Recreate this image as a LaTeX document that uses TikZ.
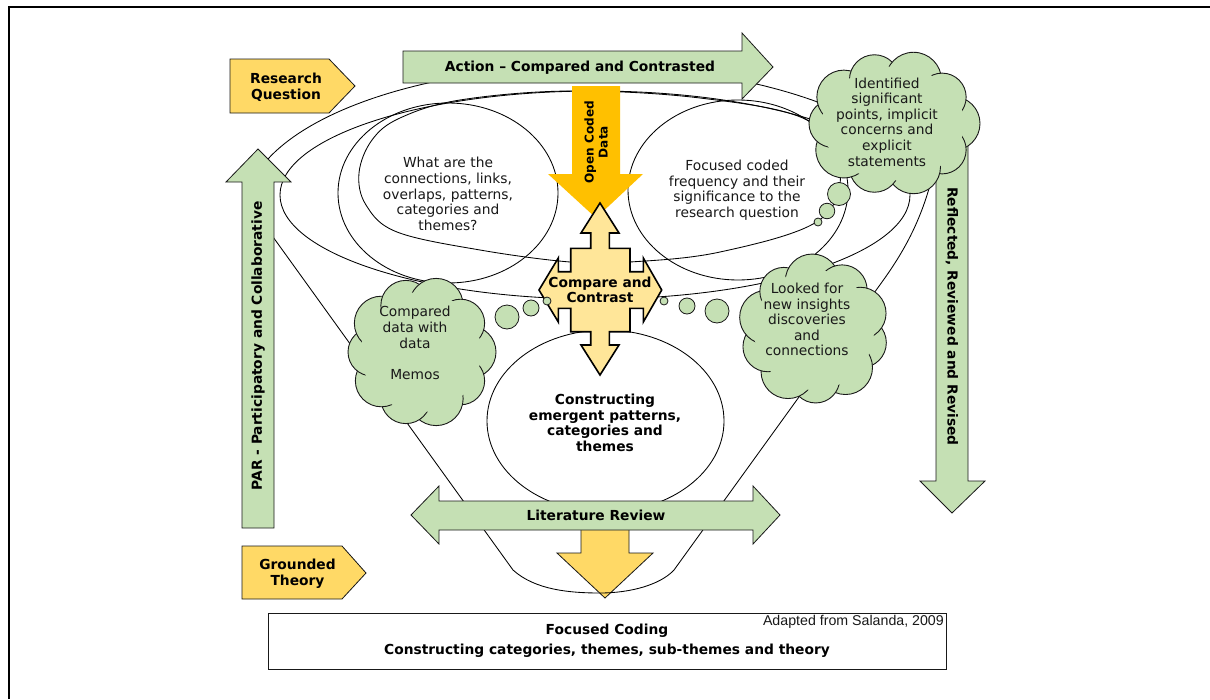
\documentclass[tikz,border=0pt]{standalone}
\usepackage{fontspec}
\setmainfont{DejaVu Sans}
\newfontfamily\notefont{Liberation Sans}
\usetikzlibrary{shapes.geometric}
\definecolor{leaf}{RGB}{197,224,180}
\definecolor{gold}{RGB}{255,217,102}
\definecolor{amber}{RGB}{255,192,0}
\definecolor{cream}{RGB}{255,230,153}
\definecolor{ink}{RGB}{25,25,25}
\tikzset{
  outline/.style={draw=ink, line width=0.8pt, line join=miter},
  greenshape/.style={outline, fill=leaf},
  goldshape/.style={outline, fill=gold},
  curve/.style={draw=black, line width=0.85pt},
  txt/.style={font=\fontsize{13.8}{15.6}\selectfont, align=center, inner sep=0pt, text=ink},
  btxt/.style={txt, font=\fontsize{13.8}{15.6}\selectfont\bfseries, text=black},
  puff/.style={draw=ink, line width=0.9pt, fill=leaf},
  bubble/.style={circle, draw=ink, line width=0.8pt, fill=leaf, inner sep=0pt},
  oval/.style={ellipse, draw=black, line width=0.85pt, inner sep=0pt},
}
% a thought cloud built from overlapping puffs: centre x, centre y, x spread, y spread, angle/radius list
\newcommand\puffcloud[5]{%
  \foreach \pa/\pr in {#5} {\draw[puff] ({#1+#3*cos(\pa)},{#2+#4*sin(\pa)}) circle[radius=\pr];}
  \fill[leaf] (#1,#2) ellipse[x radius=#3+11, y radius=#4+11];
}
\begin{document}
\begin{tikzpicture}[x=1pt,y=-1pt]
\useasboundingbox (0,0) rectangle (1210,699);
\fill[white] (0,0) rectangle (1210,699);
% page frame
\draw[line width=1.8pt] (9,699) -- (9,7) -- (1210,7);

% ---- background sweeps ----
\draw[curve] plot[domain=199:332, samples=80] ({590+345*cos(\x)},{211+145*sin(\x)});
\draw[curve] (595,195) ellipse [x radius=315, y radius=104];
\draw[curve] plot[smooth cycle, tension=0.6] coordinates {(359,173) (372,140) (400,118) (460,100) (570,91) (700,98) (807,120) (840,170) (818,221) (720,252) (630,262) (570,262) (480,250) (397,232) (366,205)};

% ---- question ovals ----
\node[oval, minimum width=220pt, minimum height=180pt] (qleft) at (448,193) {};
\node[oval, minimum width=220pt, minimum height=180pt] (qright) at (738,190) {};
\node[oval, minimum width=237pt, minimum height=182pt] (build) at (605.5,421) {};

% ---- grounded theory arrow into focused coding ----
\draw[goldshape] (581,520) -- (629,520) -- (629,553) -- (653,553) -- (605,598) -- (557,553) -- (581,553) -- cycle;

% ---- funnel ----
\draw[curve] (250,205) -- (513,570) .. controls (535,590) and (570,593) .. (600,593)
  .. controls (630,593) and (660,585) .. (674,570) -- (882,282) .. controls (905,250) and (925,215) .. (936,160);

% ---- literature review double arrow ----
\draw[greenshape] (411,515) -- (439,486) -- (439,501) -- (753,501) -- (753,486) -- (780,515)
  -- (753,544) -- (753,530) -- (439,530) -- (439,544) -- cycle;

% ---- action arrow ----
\draw[greenshape] (403,51) -- (742,51) -- (742,33) -- (773,67) -- (742,99) -- (742,83) -- (403,83) -- cycle;

% ---- open coded data arrow ----
\fill[amber] (572,86) -- (620,86) -- (620,174) -- (643,174) -- (596,218) -- (548,174) -- (572,174) -- cycle;

% ---- compare and contrast quad arrow ----
\draw[fill=cream, draw=black, line width=1.6pt, line join=miter]
  (600,203) -- (619,233) -- (609.3,233) -- (609.3,248.3) -- (630,248.3) -- (630,271.7) -- (643.3,271.7)
  -- (643.3,258) -- (661.7,290) -- (643.3,322) -- (643.3,308.3) -- (630,308.3) -- (630,331.7)
  -- (609.3,331.7) -- (609.3,345) -- (619,345) -- (600,375) -- (581,345) -- (590.7,345) -- (590.7,331.7)
  -- (570.7,331.7) -- (570.7,308.3) -- (558.3,308.3) -- (558.3,322) -- (539,290) -- (558.3,258)
  -- (558.3,271.7) -- (570.7,271.7) -- (570.7,248.3) -- (590.7,248.3) -- (590.7,233) -- (581,233) -- cycle;

% ---- side arrows ----
\draw[greenshape] (242,528) -- (242,182) -- (226,182) -- (258,149) -- (291,182) -- (274,182) -- (274,528) -- cycle;
\draw[greenshape] (936,140) -- (968,140) -- (968,481) -- (985,481) -- (952,513) -- (920,481) -- (936,481) -- cycle;

% ---- thought clouds ----
\puffcloud{893}{123.5}{60}{46}{0/27, 35/24, 70/27, 108/25, 145/28, 180/24, 215/27, 252/25, 290/28, 325/24}
\coordinate (cloudA) at (893,123.5);
\node[bubble, minimum size=23pt] (a1) at (839,194) {};
\node[bubble, minimum size=15.5pt] (a2) at (827,211) {};
\node[bubble, minimum size=8pt] (a3) at (818,222) {};

\puffcloud{421}{352}{49}{49}{0/26, 36/24, 72/27, 108/25, 144/26, 180/24, 216/27, 252/25, 288/27, 324/24}
\coordinate (cloudB) at (421,352);
\node[bubble, minimum size=24pt] (b1) at (507,317) {};
\node[bubble, minimum size=16pt] (b2) at (531,308) {};
\node[bubble, minimum size=8pt] (b3) at (547,301) {};

\puffcloud{814}{330}{49}{49}{15/25, 50/27, 88/24, 122/27, 160/25, 195/27, 232/24, 268/27, 305/25, 340/26}
\coordinate (cloudC) at (814,330);
\node[bubble, minimum size=24pt] (c1) at (717,311) {};
\node[bubble, minimum size=16pt] (c2) at (687,306) {};
\node[bubble, minimum size=8pt] (c3) at (664,301) {};

% ---- tags ----
\draw[goldshape] (230,59) -- (329,59) -- (355,86) -- (329,113) -- (230,113) -- cycle;
\draw[goldshape] (242,546) -- (342,546) -- (366,573) -- (342,599) -- (242,599) -- cycle;
\draw[outline, fill=white] (268,613) rectangle (946,669);

% ---- labels ----
\node[btxt] (tAction) at (580,68) {Action -- Compared and Contrasted};
\node[btxt] (tRQ) at (286,87) {Research\\Question};
\node[btxt] (tGT) at (297.5,573.5) {Grounded\\Theory};
\node[btxt, rotate=90] (tPAR) at (258,346) {PAR - Participatory and Collaborative};
\node[btxt, rotate=-90] (tRRR) at (952,316.5) {Reflected, Reviewed and Revised};
\node[btxt, rotate=90, font=\fontsize{12.1}{14}\selectfont\bfseries] (tOCD) at (596,142) {Open Coded\\Data};
\node[btxt] (tCC) at (600,290) {Compare and\\Contrast};
\node[btxt] (tLR) at (596,515) {Literature Review};
\node[btxt] (tBuild) at (605,423) {Constructing\\emergent patterns,\\categories and\\themes};
\node[txt] (tQL) at (448,194) {What are the\\connections, links,\\overlaps, patterns,\\categories and\\themes?};
\node[txt] (tQR) at (737,190) {Focused coded\\frequency and their\\significance to the\\research question};
\node[txt] (tA) at (887,122) {Identified\\significant\\points, implicit\\concerns and\\explicit\\statements};
\node[txt] (tB) at (415,343) {Compared\\data with\\data\\[15.6pt]Memos};
\node[txt] (tC) at (807,319.5) {Looked for\\new insights\\discoveries\\and\\connections};
\node[btxt] (tFC1) at (607,631) {Focused Coding};
\node[btxt] (tFC2) at (607,651) {Constructing categories, themes, sub-themes and theory};
\node[txt, anchor=east, font=\notefont\fontsize{14.2}{15}\selectfont] (tSrc) at (944,622) {Adapted from Salanda, 2009};
\end{tikzpicture}
\end{document}
